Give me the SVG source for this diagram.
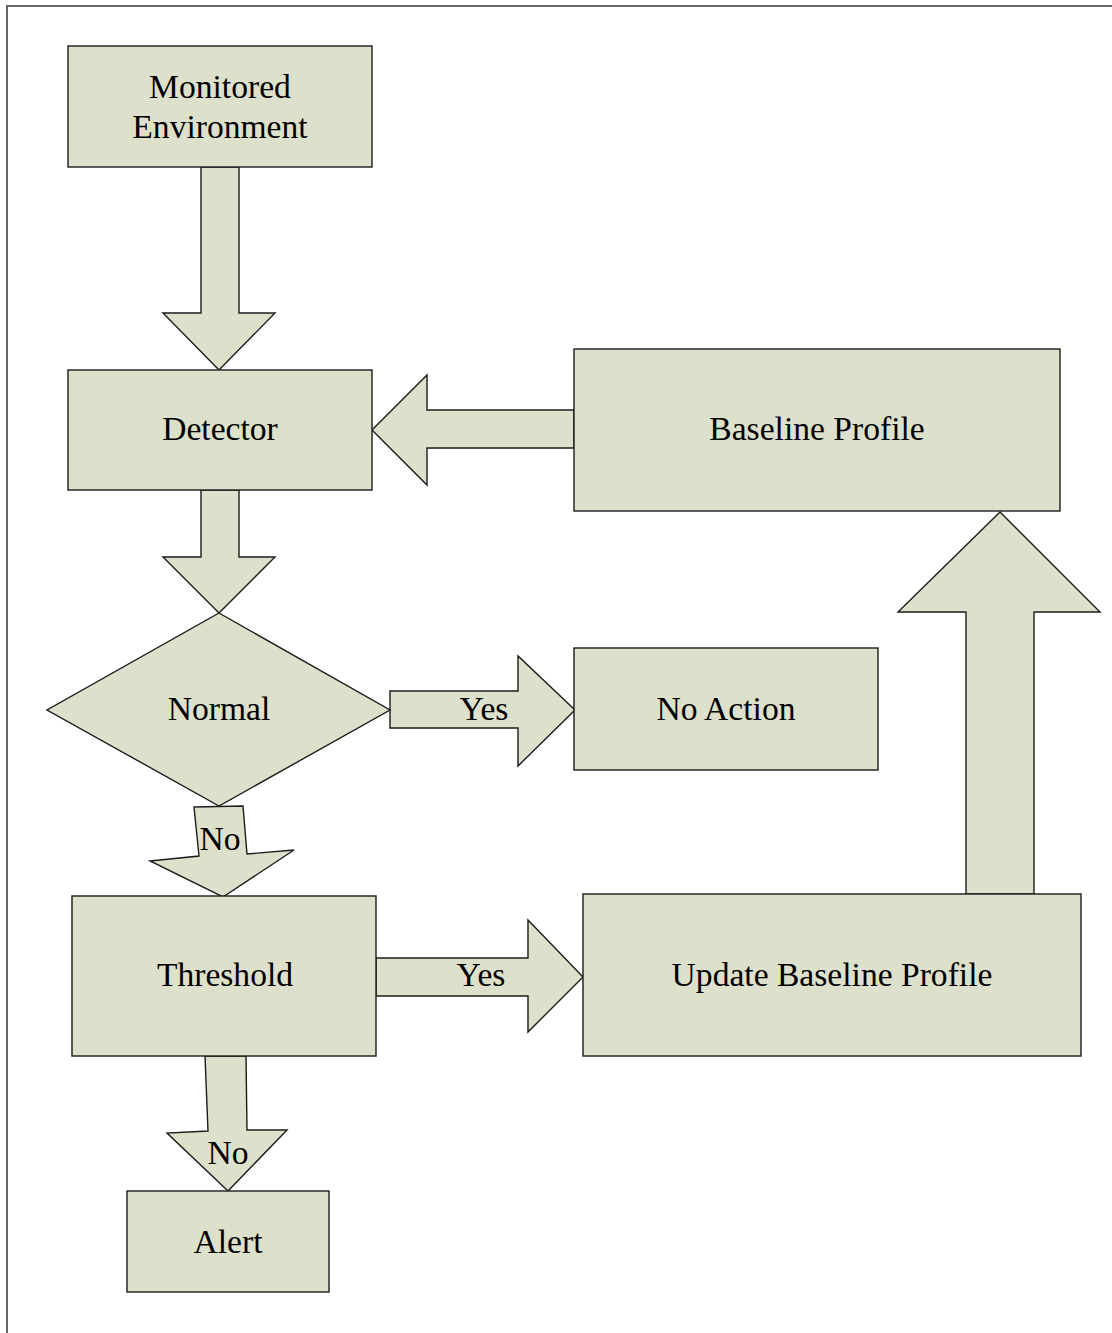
<svg xmlns="http://www.w3.org/2000/svg" width="1112" height="1333" viewBox="0 0 1112 1333">
<style>
.s{fill:#dde0cb;stroke:#1c1c1c;stroke-width:1.4;stroke-linejoin:miter}
.t{font-family:"Liberation Serif","Times New Roman",serif;font-size:33.6px;fill:#000;text-anchor:middle}
</style>
<rect x="0" y="0" width="1112" height="1333" fill="#fff"/>
<path d="M7,1340 V6 H1120" fill="none" stroke="#666" stroke-width="2"/>
<g id="connectors">
<polygon class="s" points="201,167 239,167 239,313 275,313 219,370 163,313 201,313"/>
<polygon class="s" points="574,410 427,410 427,375 372,430 427,485 427,448 574,448"/>
<polygon class="s" points="201,490 239,490 239,557 275,557 219,613 163,557 201,557"/>
<polygon class="s" points="390,691 518,691 518,656 575,710 518,766 518,728 390,728"/>
<polygon class="s" points="194,807 243,806 247,854 294,850 223,897 150,861 199,856"/>
<polygon class="s" points="376,958 528,958 528,920 583,977 528,1032 528,996 376,996"/>
<polygon class="s" points="966,894 966,612 898,612 1000,512 1100,612 1034,612 1034,894"/>
<polygon class="s" points="205,1056 246,1056 247,1130 287,1130 228,1191 167,1133 208,1131"/>
<text class="t" x="484" y="720">Yes</text>
<text class="t" x="220" y="850">No</text>
<text class="t" x="481" y="986">Yes</text>
<text class="t" x="228" y="1164">No</text>
</g>
<g id="monitored"><rect class="s" x="68" y="46" width="304" height="121"/><text class="t" x="220" y="98">Monitored</text><text class="t" x="220" y="138">Environment</text></g>
<g id="detector"><rect class="s" x="68" y="370" width="304" height="120"/><text class="t" x="220" y="440">Detector</text></g>
<g id="baseline"><rect class="s" x="574" y="349" width="486" height="162"/><text class="t" x="817" y="440">Baseline Profile</text></g>
<g id="normal"><polygon class="s" points="219,613 390,710 219,806 47,710"/><text class="t" x="219" y="720">Normal</text></g>
<g id="noaction"><rect class="s" x="574" y="648" width="304" height="122"/><text class="t" x="726" y="720">No Action</text></g>
<g id="threshold"><rect class="s" x="72" y="896" width="304" height="160"/><text class="t" x="225" y="986">Threshold</text></g>
<g id="update"><rect class="s" x="583" y="894" width="498" height="162"/><text class="t" x="832" y="986">Update Baseline Profile</text></g>
<g id="alert"><rect class="s" x="127" y="1191" width="202" height="101"/><text class="t" x="228" y="1253">Alert</text></g>
</svg>
